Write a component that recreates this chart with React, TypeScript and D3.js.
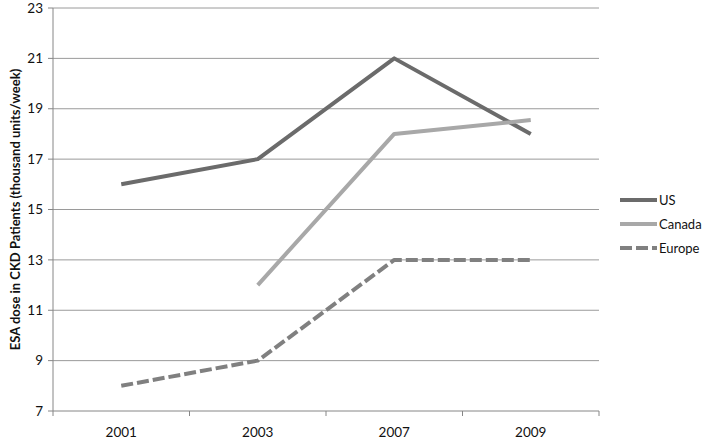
import * as d3 from "d3"

const years = ["2001", "2003", "2007", "2009"]
const usValues = [16, 17, 21, 18]
const canadaValues: (number | null)[] = [null, 12, 18, 18.55]
const europeValues = [8, 9, 13, 13]
const yTicks = [7, 9, 11, 13, 15, 17, 19, 21, 23]

const series = [
  { name: "US", values: usValues, color: "#6b6b6b", dash: "none" },
  { name: "Canada", values: canadaValues, color: "#a8a8a8", dash: "none" },
  { name: "Europe", values: europeValues, color: "#808080", dash: "12,4" },
]

const WIDTH = 702
const HEIGHT = 440
const MARGIN = { left: 53, top: 8, right: 103, bottom: 29 }
const FONT = "Lato, 'Open Sans', sans-serif"

export default function App() {
  const boundsWidth = WIDTH - MARGIN.left - MARGIN.right
  const boundsHeight = HEIGHT - MARGIN.top - MARGIN.bottom

  const x = d3.scaleBand().domain(years).range([0, boundsWidth])
  const y = d3.scaleLinear().domain([7, 23]).range([boundsHeight, 0])

  const line = d3
    .line<number | null>()
    .defined((d) => d != null)
    .x((_, i) => (x(years[i]) ?? 0) + x.bandwidth() / 2)
    .y((d) => y(d as number))

  const edges = years.map((yr) => x(yr) ?? 0).concat([boundsWidth])

  return (
    <div style={{ position: "absolute", left: 0, top: 0 }}>
      <svg width={WIDTH} height={HEIGHT} style={{ display: "block", background: "#fff" }}>
        <g transform={`translate(${MARGIN.left},${MARGIN.top})`}>
          {/* gridlines + y ticks */}
          {yTicks.map((t) => (
            <g key={t}>
              {t !== 7 && (
                <line x1={0} x2={boundsWidth} y1={y(t)} y2={y(t)} stroke="#9a9a9a" strokeWidth={1} />
              )}
              <line x1={-5} x2={0} y1={y(t)} y2={y(t)} stroke="#868686" />
              <text
                x={-10}
                y={y(t)}
                dy="0.35em"
                textAnchor="end"
                fontSize={13.5}
                fontFamily={FONT}
                fill="#111"
              >
                {t}
              </text>
            </g>
          ))}
          {/* axes */}
          <line x1={0} x2={0} y1={0} y2={boundsHeight} stroke="#868686" />
          <line x1={0} x2={boundsWidth} y1={boundsHeight} y2={boundsHeight} stroke="#868686" />
          {edges.map((e, i) => (
            <line key={i} x1={e} x2={e} y1={boundsHeight} y2={boundsHeight + 5} stroke="#868686" />
          ))}
          {years.map((yr) => (
            <text
              key={yr}
              x={(x(yr) ?? 0) + x.bandwidth() / 2}
              y={boundsHeight + 26}
              textAnchor="middle"
              fontSize={13.5}
              fontFamily={FONT}
              fill="#111"
            >
              {yr}
            </text>
          ))}
          {/* series */}
          {series.map((s) => (
            <path
              key={s.name}
              d={line(s.values) ?? ""}
              fill="none"
              stroke={s.color}
              strokeWidth={4}
              strokeDasharray={s.dash}
              strokeLinejoin="round"
            />
          ))}
        </g>
        {/* y title */}
        <text
          transform={`translate(15,${MARGIN.top + boundsHeight / 2}) rotate(-90)`}
          textAnchor="middle"
          dy="0.35em"
          fontSize={13}
          fontWeight={700}
          fontFamily={FONT}
          fill="#111"
        >
          ESA dose in CKD Patients (thousand units/week)
        </text>
        {/* legend */}
        {series.map((s, i) => (
          <g key={s.name} transform={`translate(620,${200 + i * 24})`}>
            <line x1={0} x2={37} y1={0} y2={0} stroke={s.color} strokeWidth={4} strokeDasharray={s.dash} />
            <text x={39} y={0} dy="0.35em" fontSize={13} fontFamily={FONT} fill="#111">
              {s.name}
            </text>
          </g>
        ))}
      </svg>
    </div>
  )
}
